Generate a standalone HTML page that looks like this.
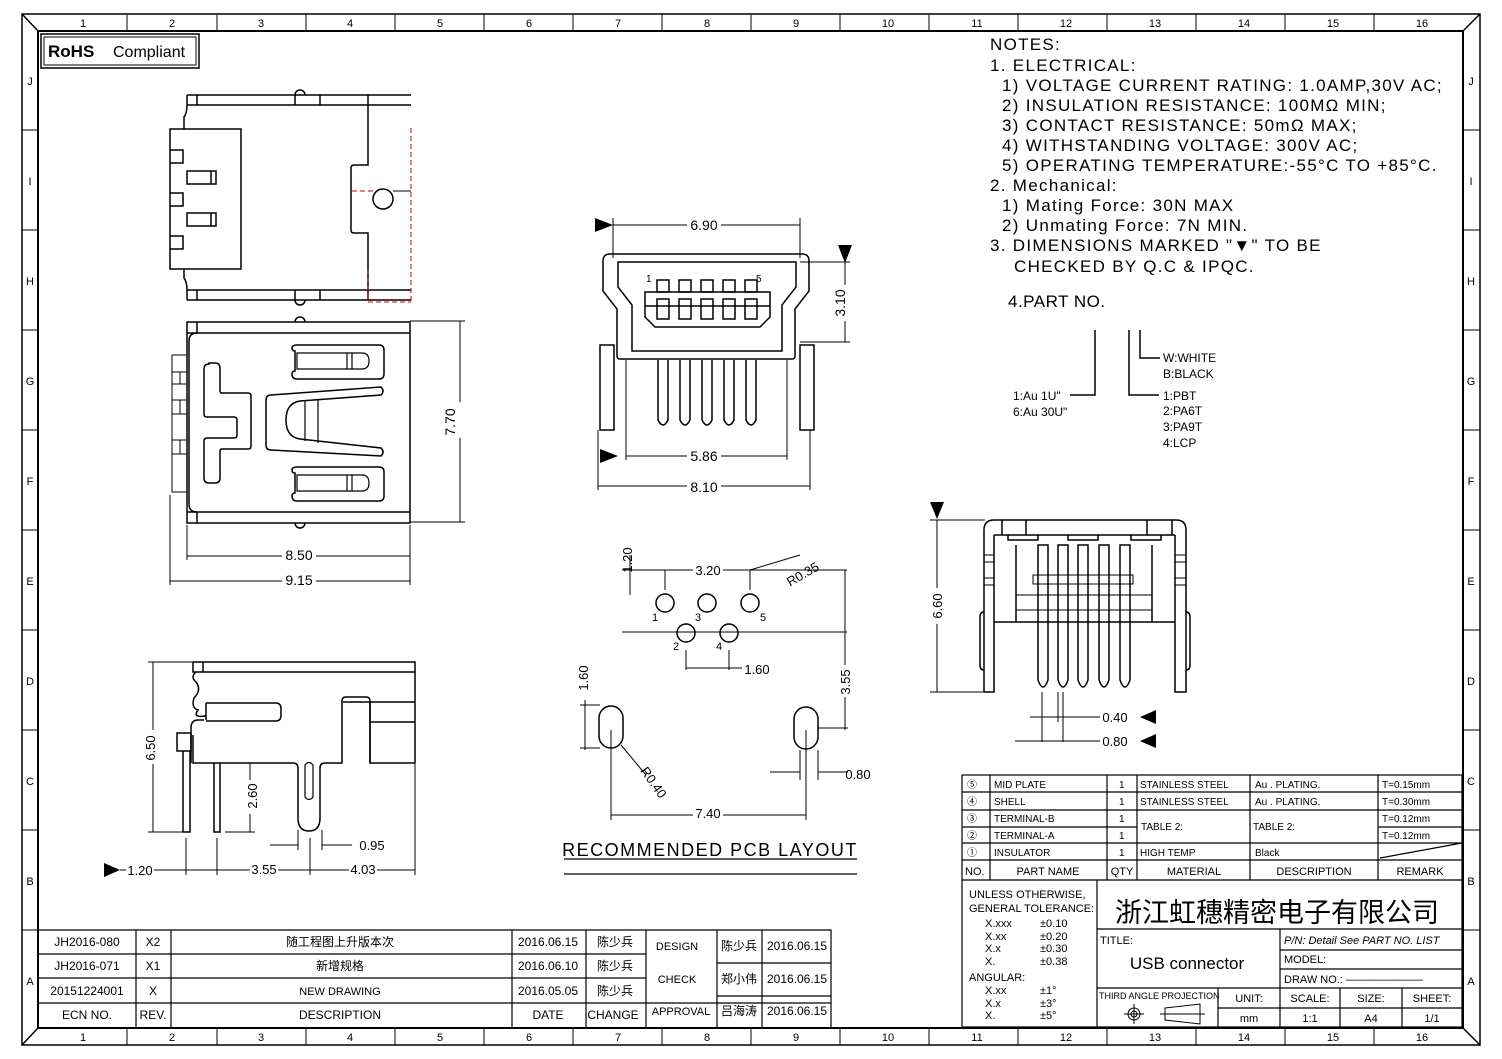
<!DOCTYPE html>
<html><head><meta charset="utf-8"><style>
html,body{margin:0;padding:0;background:#fff}
svg{display:block}
text{font-family:"Liberation Sans","Noto Sans CJK SC",sans-serif;fill:#000}
.n{font-size:11px}
.m{font-family:"Liberation Sans",sans-serif}
</style></head><body>
<svg width="1502" height="1059" viewBox="0 0 1502 1059" xmlns="http://www.w3.org/2000/svg">
<rect width="1502" height="1059" fill="#fff"/>
<g fill="none" stroke="#000" stroke-width="1.5">
<rect x="22" y="14" width="1458" height="1031"/>
<rect x="38" y="31" width="1425" height="997" stroke-width="2"/>
<line x1="22" y1="14" x2="38" y2="31"/><line x1="1480" y1="14" x2="1463" y2="31"/>
<line x1="22" y1="1045" x2="38" y2="1028"/><line x1="1480" y1="1045" x2="1463" y2="1028"/>
</g>
<g stroke="#000" stroke-width="1">
<path d="M127 14v17M217 14v17M306 14v17M395 14v17M484 14v17M573 14v17M662 14v17M751 14v17M840 14v17M929 14v17M1018 14v17M1107 14v17M1196 14v17M1285 14v17M1374 14v17
M127 1028v17M217 1028v17M306 1028v17M395 1028v17M484 1028v17M573 1028v17M662 1028v17M751 1028v17M840 1028v17M929 1028v17M1018 1028v17M1107 1028v17M1196 1028v17M1285 1028v17M1374 1028v17
M22 130h16M22 230h16M22 330h16M22 430h16M22 530h16M22 630h16M22 730h16M22 830h16M22 930h16
M1463 130h17M1463 230h17M1463 330h17M1463 430h17M1463 530h17M1463 630h17M1463 730h17M1463 830h17M1463 930h17"/>
</g>
<g class="n" text-anchor="middle">
<text x="83" y="27">1</text><text x="172" y="27">2</text><text x="261" y="27">3</text><text x="350" y="27">4</text><text x="440" y="27">5</text><text x="529" y="27">6</text><text x="618" y="27">7</text><text x="707" y="27">8</text><text x="796" y="27">9</text><text x="888" y="27">10</text><text x="977" y="27">11</text><text x="1066" y="27">12</text><text x="1155" y="27">13</text><text x="1244" y="27">14</text><text x="1333" y="27">15</text><text x="1422" y="27">16</text>
<text x="83" y="1041">1</text><text x="172" y="1041">2</text><text x="261" y="1041">3</text><text x="350" y="1041">4</text><text x="440" y="1041">5</text><text x="529" y="1041">6</text><text x="618" y="1041">7</text><text x="707" y="1041">8</text><text x="796" y="1041">9</text><text x="888" y="1041">10</text><text x="977" y="1041">11</text><text x="1066" y="1041">12</text><text x="1155" y="1041">13</text><text x="1244" y="1041">14</text><text x="1333" y="1041">15</text><text x="1422" y="1041">16</text>
<text x="30" y="85">J</text><text x="30" y="185">I</text><text x="30" y="285">H</text><text x="30" y="385">G</text><text x="30" y="485">F</text><text x="30" y="585">E</text><text x="30" y="685">D</text><text x="30" y="785">C</text><text x="30" y="885">B</text><text x="30" y="985">A</text>
<text x="1471" y="85">J</text><text x="1471" y="185">I</text><text x="1471" y="285">H</text><text x="1471" y="385">G</text><text x="1471" y="485">F</text><text x="1471" y="585">E</text><text x="1471" y="685">D</text><text x="1471" y="785">C</text><text x="1471" y="885">B</text><text x="1471" y="985">A</text>
</g>
<!-- RoHS -->
<rect x="41" y="34" width="158" height="34" fill="none" stroke="#000" stroke-width="1.5"/>
<rect x="44" y="37" width="152" height="28" fill="none" stroke="#000" stroke-width="1"/>
<text x="48" y="57" font-size="17" font-weight="bold">RoHS</text><text x="113" y="57" font-size="16">Compliant</text>

<!-- Notes -->
<g font-size="17" class="m" letter-spacing="1.3">
<text x="990" y="50">NOTES:</text>
<text x="990" y="71">1. ELECTRICAL:</text>
<text x="1002" y="91">1) VOLTAGE CURRENT RATING: 1.0AMP,30V AC;</text>
<text x="1002" y="111">2) INSULATION RESISTANCE: 100MΩ MIN;</text>
<text x="1002" y="131">3) CONTACT RESISTANCE: 50mΩ MAX;</text>
<text x="1002" y="151">4) WITHSTANDING VOLTAGE: 300V AC;</text>
<text x="1002" y="171">5) OPERATING TEMPERATURE:-55°C TO +85°C.</text>
<text x="990" y="191">2. Mechanical:</text>
<text x="1002" y="211">1) Mating Force: 30N MAX</text>
<text x="1002" y="231">2) Unmating Force: 7N MIN.</text>
<text x="990" y="251">3. DIMENSIONS MARKED "▼" TO BE</text>
<text x="1014" y="272">CHECKED BY Q.C &amp; IPQC.</text>
<text x="1008" y="307" letter-spacing="0.5">4.PART NO.</text>
</g>
<g fill="none" stroke="#000" stroke-width="1.5">
<path d="M1095 330v65h-25M1129 330v65h30M1140 330v28h20"/>
</g>
<g font-size="12">
<text x="1163" y="362">W:WHITE</text><text x="1163" y="378">B:BLACK</text>
<text x="1013" y="400">1:Au 1U"</text><text x="1013" y="416">6:Au 30U"</text>
<text x="1163" y="400">1:PBT</text><text x="1163" y="415">2:PA6T</text><text x="1163" y="431">3:PA9T</text><text x="1163" y="447">4:LCP</text>
</g>

<!-- top-left view -->
<g fill="none" stroke="#000" stroke-width="1.5">
<path d="M187 95h224M187 105h224M187 290h224M187 300h224M187 95v10M187 290v10M197 95v10M197 290v10"/>
<path d="M187 105q0 8 -3 12v12M187 290q0-8-3-12v-9"/>
<rect x="170" y="129" width="71" height="140" fill="#fff"/>
<path d="M170 150h13v13h-13M170 193h13v13h-13M170 236h13v13h-13"/>
<path d="M187 171h29v13h-29zM187 213h29v13h-29zM211 171v13M211 213v13"/>
<path d="M295 95a5 5 0 0 1 10 0M295 300a5 5 0 0 0 10 0M295 95v10M320 95v10M295 290v10M320 290v10"/>
<path d="M368 95v70h-14q-3 0-3 3v62q0 3 3 3h14v67"/>
<circle cx="383" cy="199" r="10"/>
<path d="M393 191h18" stroke-width="1"/>
</g>
<path d="M411 128v174M352 191h22M368 270v32h43" stroke="#c00" stroke-width="1" stroke-dasharray="5,3" fill="none"/>

<!-- second view -->
<g fill="none" stroke="#000" stroke-width="1.5">
<path d="M187 322h223v201h-223zM187 333h223M187 512h223M197 322v11M197 512v11"/>
<path d="M197 333q-8 0-8 8v163q0 8 8 8"/>
<path d="M172 355h15M172 355v137h15M172 372h8v12h-8M172 400h8v14h-8M172 440h8v14h-8M180 372h7M180 384h7M180 400h7M180 414h7M180 440h7M180 454h7" stroke-width="1"/>
<path d="M295 322a5 5 0 0 1 10 0M295 523a5 5 0 0 0 10 0"/>
<path d="M297 345h82q5 0 5 5v24q0 5-5 5h-82q-5 0-5-5v0q0-3 3-3v-20q-3 0-3-3q0-3 5-3zM297 467h82q5 0 5 5v24q0 5-5 5h-82q-5 0-5-5q0-3 3-3v-20q-3 0-3-3q0-3 5-3z"/>
<path d="M297 353h65q7 0 7 8q0 8-7 8h-65zM297 475h65q7 0 7 8q0 8-7 8h-65zM347 353v16M352 353v16M347 475v16M352 475v16" stroke-width="1.2"/>
<path d="M209 363h6q5 0 5 5v23q0 2 2 2h26q3 0 3 3v50q0 3-3 3h-26q-2 0-2 2v27q0 5-5 5h-6q-5 0-5-5v-37q0-3 3-3h27q3 0 3-3v-15q0-3-3-3h-27q-3 0-3-3v-45q0-5 5-5z"/>
<path d="M271 395L381 387q4 4 0 8L300 401q-14 2-14 19q0 17 14 19L381 448q4 4 0 8L271 450q-5 0-5-5v-45q0-5 5-5z"/>
<path d="M305 401v40M318 399v44" stroke-width="1.2"/>
</g>
<!-- dims second view -->
<g stroke="#000" stroke-width="1" fill="none">
<path d="M187 525v35M410 525v60M170 495v90M410 321h55M410 522h55M460 321v201M187 556h223M170 581h240"/>
</g>
<g font-size="14" text-anchor="middle">
<rect x="282" y="548" width="34" height="14" fill="#fff"/><text x="299" y="560">8.50</text>
<rect x="282" y="573" width="34" height="14" fill="#fff"/><text x="299" y="585">9.15</text>
<rect x="448" y="402" width="16" height="36" fill="#fff"/>
<text x="455" y="422" transform="rotate(-90 455 422)">7.70</text>
</g>

<!-- front view -->
<g fill="none" stroke="#000" stroke-width="1.5">
<path d="M612 254h190q7 0 7 7v30l-14 18v47q0 3-3 3h-172q-3 0-3-3v-47l-14-18v-30q0-7 7-7z"/>
<path d="M618 262h178v25l-14 18v46h-150v-46l-14-18z"/>
<path d="M645 292h125v25l-10 10h-105l-10-10z"/>
<path d="M645 306h125"/>
<rect x="657" y="280" width="12" height="12"/><rect x="679" y="280" width="12" height="12"/><rect x="701" y="280" width="12" height="12"/><rect x="723" y="280" width="12" height="12"/><rect x="745" y="280" width="12" height="12"/>
<rect x="657" y="299" width="12" height="20"/><rect x="679" y="299" width="12" height="20"/><rect x="701" y="299" width="12" height="20"/><rect x="723" y="299" width="12" height="20"/><rect x="745" y="299" width="12" height="20"/>
<path d="M658 360v60q5 10 10 0v-60M680 360v60q5 10 10 0v-60M702 360v60q5 10 10 0v-60M724 360v60q5 10 10 0v-60M746 360v60q5 10 10 0v-60"/>
<rect x="600" y="345" width="14" height="85"/><rect x="800" y="345" width="14" height="85"/>
</g>
<g font-size="10"><text x="646" y="282">1</text><text x="756" y="282">5</text></g>
<g stroke="#000" stroke-width="1" fill="none">
<path d="M613 218v40M800 218v40M613 225h187M800 262h50M800 342h50M845 262v80M626 360v100M787 360v100M626 456h161M598 430v60M810 430v60M598 486h212"/>
</g>
<path d="M595 218l18 7-18 7zM600 449l18 7-18 7zM838 245l7 18 7-18z" fill="#000"/>
<g font-size="14" text-anchor="middle">
<rect x="687" y="217" width="34" height="14" fill="#fff"/><text x="704" y="230">6.90</text>
<rect x="687" y="448" width="34" height="14" fill="#fff"/><text x="704" y="461">5.86</text>
<rect x="687" y="480" width="34" height="14" fill="#fff"/><text x="704" y="492">8.10</text>
<rect x="838" y="285" width="16" height="36" fill="#fff"/>
<text x="845" y="303" transform="rotate(-90 845 303)">3.10</text>
</g>

<!-- PCB -->
<g fill="none" stroke="#000" stroke-width="1.5">
<circle cx="665" cy="603" r="9"/><circle cx="707" cy="603" r="9"/><circle cx="750" cy="603" r="9"/><circle cx="686" cy="633" r="9"/><circle cx="729" cy="633" r="9"/>
<rect x="599" y="706" width="24" height="42" rx="12"/><rect x="794" y="707" width="24" height="42" rx="12"/>
</g>
<g stroke="#000" stroke-width="1" fill="none">
<path d="M622 570h225M622 632h225M630 555v40M665 570v20M750 570v20M686 650v20M729 650v20M686 668h85M750 570l50-15M845 570v160M818 728h30M585 700v50M580 705h20M580 748h20M611 730v90M806 730v90M611 815h195M621 745l25 30M770 772h30M818 772h30M800 750v30M818 750v30"/>
</g>
<g font-size="13" text-anchor="middle">
<rect x="693" y="564" width="30" height="13" fill="#fff"/><text x="708" y="575">3.20</text>
<rect x="742" y="663" width="30" height="13" fill="#fff"/><text x="757" y="674">1.60</text>
<rect x="693" y="807" width="30" height="13" fill="#fff"/><text x="708" y="818">7.40</text>
<text x="858" y="779">0.80</text>
<text x="632" y="560" transform="rotate(-90 632 560)">1.20</text>
<text x="588" y="678" transform="rotate(-90 588 678)">1.60</text>
<rect x="838" y="665" width="14" height="32" fill="#fff"/>
<text x="850" y="682" transform="rotate(-90 850 682)">3.55</text>
<text x="805" y="578" transform="rotate(-30 805 578)">R0.35</text>
<text x="650" y="785" transform="rotate(55 650 785)">R0.40</text>
</g>
<g font-size="11"><text x="652" y="621">1</text><text x="695" y="621">3</text><text x="760" y="621">5</text><text x="673" y="650">2</text><text x="716" y="650">4</text></g>
<text x="710" y="856" font-size="18" text-anchor="middle" letter-spacing="1.5">RECOMMENDED PCB LAYOUT</text>
<path d="M564 859h293M564 874h293" stroke="#000" stroke-width="1.2"/>

<!-- bottom-left side view -->
<g fill="none" stroke="#000" stroke-width="1.5">
<path d="M193 662h222v101M193 672h222M193 662v10h10v-10"/>
<path d="M196 672q-6 5 0 10q6 8 -2 16q-3 10 4 12q-6 8 8 6h-3"/>
<path d="M206 703h70q5 0 5 6v6q0 6-5 6h-70M206 703v17"/>
<path d="M204 720h-6q-7 0-7 8v35"/>
<path d="M193 735v28h100q5 0 5 5v50q0 13 11 13q11 0 11-13v-50q0-5 5-5h17v-62q0-4 4-4h20q4 0 4 4v62h45"/>
<path d="M343 702h72M370 702h45M370 722h45M370 702v61"/>
<path d="M305 765v32q4 5 8 0v-32q-4-5-8 0z" stroke-width="1.2"/>
<rect x="177" y="733" width="14" height="18"/>
<path d="M183 751v81h7v-81M214 763v69h6v-69"/>
</g>
<g stroke="#000" stroke-width="1" fill="none">
<path d="M148 662h45M148 832h35M153 662v170M225 763h30M225 832h30M250 763v69M186 838v37M217 838v37M310 838v37M298 830v20M322 830v20M415 763v112M270 845h28M322 845h30M120 870h295"/>
</g>
<path d="M104 863l16 7-16 7z" fill="#000"/>
<g font-size="13" text-anchor="middle">
<rect x="126" y="863" width="28" height="13" fill="#fff"/><text x="140" y="875">1.20</text>
<rect x="250" y="863" width="28" height="13" fill="#fff"/><text x="264" y="874">3.55</text>
<rect x="349" y="863" width="28" height="13" fill="#fff"/><text x="363" y="874">4.03</text>
<text x="372" y="850">0.95</text>
<rect x="143" y="730" width="14" height="34" fill="#fff"/>
<text x="155" y="748" transform="rotate(-90 155 748)">6.50</text>
<rect x="245" y="780" width="14" height="34" fill="#fff"/>
<text x="257" y="796" transform="rotate(-90 257 796)">2.60</text>
</g>

<!-- right view -->
<g fill="none" stroke="#000" stroke-width="1.5">
<path d="M984 692v-162q0-10 10-10h182q10 0 10 10v162h-11v-157M984 692h10v-157M994 535h181"/>
<path d="M1002 520v15M1026 520v15M1147 520v15M1172 520v15"/>
<path d="M1008 535v5h30v-5M1068 535v5h30v-5M1131 535v5h30v-5"/>
<path d="M1016 545v77M1152 545v77M994 622h181"/>
<path d="M984 555h10M984 562h10M984 578h10M984 585h10M1175 555h11M1175 562h11M1175 578h11M1175 585h11" stroke-width="1"/>
<path d="M984 612q-4 0-4 5v48q0 5 4 5M1186 612q4 0 4 5v48q0 5-4 5"/>
<path d="M1038 545h10v135q-5 14-10 0zM1058 545h10v135q-5 14-10 0zM1078 545h10v135q-5 14-10 0zM1099 545h10v135q-5 14-10 0zM1120 545h10v135q-5 14-10 0z"/>
<path d="M1033 575h100v9h-100zM1016 595h136M1016 610h136" stroke-width="1"/>
</g>
<g stroke="#000" stroke-width="1" fill="none">
<path d="M930 520h55M930 692h55M937 520v172M1042 692v50M1058 692v30M1063 692v50M1030 717h70M1015 741h85"/>
</g>
<path d="M930 502l7 17 7-17zM1156 710l-16 7 16 7zM1156 734l-16 7 16 7z" fill="#000"/>
<g font-size="13" text-anchor="middle">
<text x="1115" y="722">0.40</text><text x="1115" y="746">0.80</text>
<rect x="930" y="588" width="14" height="36" fill="#fff"/>
<text x="942" y="606" transform="rotate(-90 942 606)">6.60</text>
</g>

<!-- right title block -->
<g fill="none" stroke="#000" stroke-width="1.2">
<rect x="962" y="775" width="500" height="252"/>
<path d="M962 792h500M962 810h500M962 827h145M1107 827h30M1378 827h84M962 843h500M962 860h500M962 880h500M1097 880v147M1097 929h365M1280 929v59M1280 950h182M1280 969h182M1097 988h365M1218 988v39M1218 1008h244M1280 988v39M1340 988v39M1402 988v39M990 775v105M1107 775v105M1137 775v105M1250 775v105M1378 775v105M1380 858l82-15"/>
</g>
<g font-size="10">
<text x="967" y="788">⑤</text><text x="967" y="805">④</text><text x="967" y="822">③</text><text x="967" y="839">②</text><text x="967" y="856">①</text>
<text x="994" y="788">MID PLATE</text><text x="994" y="805">SHELL</text><text x="994" y="822">TERMINAL-B</text><text x="994" y="839">TERMINAL-A</text><text x="994" y="856">INSULATOR</text>
<text x="1119" y="788">1</text><text x="1119" y="805">1</text><text x="1119" y="822">1</text><text x="1119" y="839">1</text><text x="1119" y="856">1</text>
<text x="1140" y="788">STAINLESS STEEL</text><text x="1140" y="805">STAINLESS STEEL</text><text x="1141" y="830">TABLE 2:</text><text x="1140" y="856">HIGH TEMP</text>
<text x="1255" y="788">Au . PLATING.</text><text x="1255" y="805">Au . PLATING.</text><text x="1253" y="830">TABLE 2:</text><text x="1255" y="856">Black</text>
<text x="1382" y="788">T=0.15mm</text><text x="1382" y="805">T=0.30mm</text><text x="1382" y="822">T=0.12mm</text><text x="1382" y="839">T=0.12mm</text>
<text x="965" y="875" font-size="11">NO.</text><text x="1048" y="875" font-size="11" text-anchor="middle">PART NAME</text><text x="1122" y="875" font-size="11" text-anchor="middle">QTY</text><text x="1194" y="875" font-size="11" text-anchor="middle">MATERIAL</text><text x="1314" y="875" font-size="11" text-anchor="middle">DESCRIPTION</text><text x="1420" y="875" font-size="11" text-anchor="middle">REMARK</text>
</g>
<g font-size="11">
<text x="969" y="898">UNLESS OTHERWISE,</text><text x="969" y="912">GENERAL TOLERANCE:</text>
<text x="985" y="927">X.xxx</text><text x="1040" y="927">±0.10</text>
<text x="985" y="940">X.xx</text><text x="1040" y="940">±0.20</text>
<text x="985" y="952">X.x</text><text x="1040" y="952">±0.30</text>
<text x="985" y="965">X.</text><text x="1040" y="965">±0.38</text>
<text x="969" y="981">ANGULAR:</text>
<text x="985" y="994">X.xx</text><text x="1040" y="994">±1°</text>
<text x="985" y="1007">X.x</text><text x="1040" y="1007">±3°</text>
<text x="985" y="1019">X.</text><text x="1040" y="1019">±5°</text>
<text x="1100" y="944">TITLE:</text>
<text x="1284" y="944" font-style="italic">P/N: Detail See PART NO. LIST</text>
<text x="1284" y="963">MODEL:</text>
<text x="1284" y="983">DRAW NO.: ———————</text>
<text x="1099" y="999" font-size="9">THIRD ANGLE PROJECTION</text>
<text x="1249" y="1002" text-anchor="middle">UNIT:</text><text x="1310" y="1002" text-anchor="middle">SCALE:</text><text x="1371" y="1002" text-anchor="middle">SIZE:</text><text x="1432" y="1002" text-anchor="middle">SHEET:</text>
<text x="1249" y="1022" text-anchor="middle">mm</text><text x="1310" y="1022" text-anchor="middle">1:1</text><text x="1371" y="1022" text-anchor="middle">A4</text><text x="1432" y="1022" text-anchor="middle">1/1</text>
</g>
<text x="1277" y="922" font-size="27" text-anchor="middle" font-family="Noto Serif CJK SC,serif">浙江虹穗精密电子有限公司</text>
<text x="1187" y="969" font-size="17" text-anchor="middle" font-family="Liberation Mono,monospace">USB connector</text>
<g fill="none" stroke="#000" stroke-width="1"><circle cx="1134" cy="1014" r="6"/><circle cx="1134" cy="1014" r="3"/><path d="M1124 1014h20M1134 1004v20M1165 1008l35-4v20l-35-4zM1160 1014h45"/></g>

<!-- left title block -->
<g fill="none" stroke="#000" stroke-width="1.2">
<path d="M38 930h793v98M38 954h608M38 978h608M38 1003h793M717 963h114M717 996h114M136 930v98M171 930v98M512 930v98M586 930v98M646 930v98M717 930v98M762 930v98"/>
</g>
<g font-size="12" text-anchor="middle">
<text x="87" y="946">JH2016-080</text><text x="153" y="946">X2</text><text x="340" y="946">随工程图上升版本次</text><text x="548" y="946">2016.06.15</text><text x="615" y="946">陈少兵</text>
<text x="87" y="970">JH2016-071</text><text x="153" y="970">X1</text><text x="340" y="970">新增规格</text><text x="548" y="970">2016.06.10</text><text x="615" y="970">陈少兵</text>
<text x="87" y="995">20151224001</text><text x="153" y="995">X</text><text x="340" y="995" font-size="11">NEW DRAWING</text><text x="548" y="995">2016.05.05</text><text x="615" y="995">陈少兵</text>
<text x="87" y="1019">ECN NO.</text><text x="153" y="1019">REV.</text><text x="340" y="1019">DESCRIPTION</text><text x="548" y="1019">DATE</text><text x="613" y="1019">CHANGE</text>
<text x="677" y="950" font-size="11">DESIGN</text><text x="739" y="950">陈少兵</text><text x="797" y="950">2016.06.15</text>
<text x="677" y="983" font-size="11">CHECK</text><text x="739" y="983">郑小伟</text><text x="797" y="983">2016.06.15</text>
<text x="681" y="1015" font-size="11">APPROVAL</text><text x="739" y="1015">吕海涛</text><text x="797" y="1015">2016.06.15</text>
</g>
</svg>
</body></html>
